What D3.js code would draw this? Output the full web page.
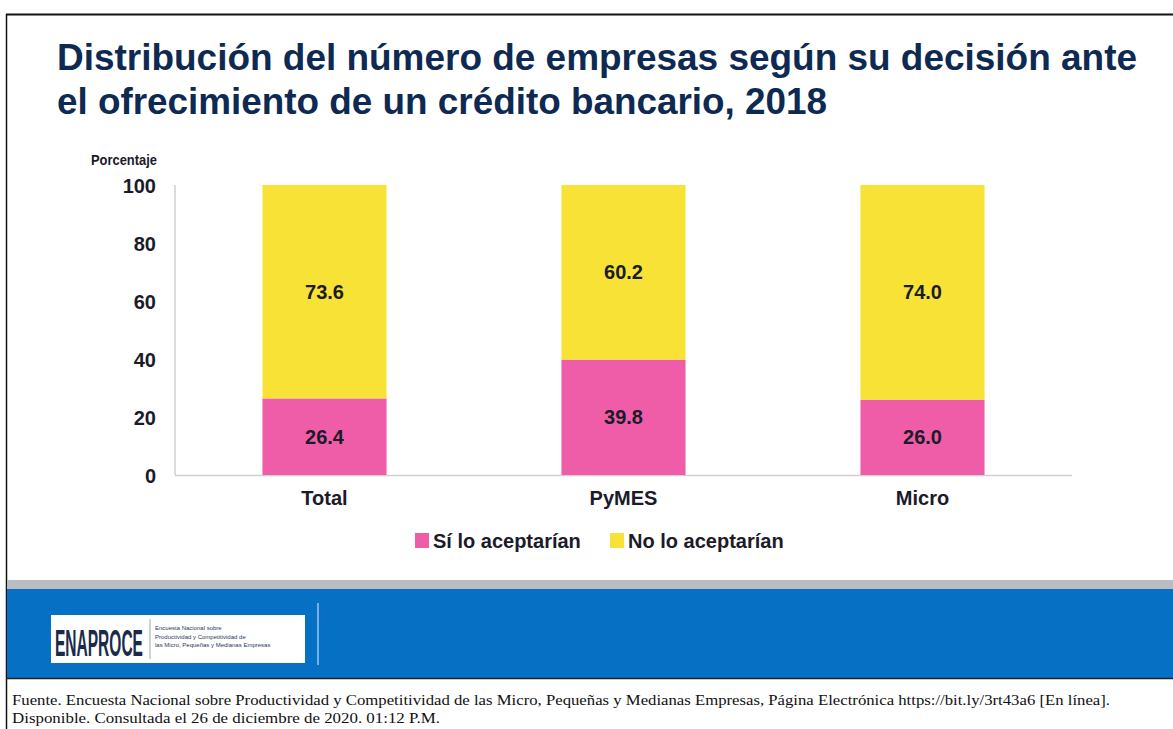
<!DOCTYPE html>
<html><head><meta charset="utf-8">
<script src="https://cdn.jsdelivr.net/npm/d3@7"></script>
<style>body{margin:0;background:#fff}svg{display:block}</style>
</head><body>
<svg id="c" width="1173" height="729"></svg>
<script>
const categories = ["Total", "PyMES", "Micro"];
const seriesNames = ["Sí lo aceptarían", "No lo aceptarían"];
const siValues = [26.4, 39.8, 26.0];
const noValues = [73.6, 60.2, 74.0];
const yTicks = [0, 20, 40, 60, 80, 100];
const colors = ["#ef5da8", "#f8e236"];

const svg = d3.select("#c");
const F = "Liberation Sans, Arial, sans-serif";

// frame
svg.append("line").attr("x1",6).attr("x2",1173).attr("y1",14.5).attr("y2",14.5).attr("stroke","#111").attr("stroke-width",2);
svg.append("line").attr("x1",6.5).attr("x2",6.5).attr("y1",14).attr("y2",729).attr("stroke","#111").attr("stroke-width",1.5);

// title
const title = ["Distribución del número de empresas según su decisión ante","el ofrecimiento de un crédito bancario, 2018"];
const tl = [1080, 770];
title.forEach((t,i)=>{
  svg.append("text").attr("x",57).attr("y",70+i*44).attr("font-family",F).attr("font-weight","bold")
    .attr("font-size",37).attr("fill","#0e2a52").attr("textLength",tl[i]).attr("lengthAdjust","spacingAndGlyphs").text(t);
});

// scales
const x = d3.scaleBand().domain(categories).range([175,1072]).paddingInner(0.585).paddingOuter(0.2925);
const y = d3.scaleLinear().domain([0,100]).range([475,185]);

const data = categories.map((c,i)=>({cat:c, si:siValues[i], no:noValues[i]}));
const stack = d3.stack().keys(["si","no"])(data);

// axis lines
svg.append("line").attr("x1",175).attr("x2",175).attr("y1",y(100)).attr("y2",y(0)).attr("stroke","#d0d0d0").attr("stroke-width",1.5);
svg.append("line").attr("x1",175).attr("x2",1072).attr("y1",y(0)+0.5).attr("y2",y(0)+0.5).attr("stroke","#d0d0d0").attr("stroke-width",1.5);

// y ticks
const ya = svg.append("g").attr("transform","translate(156,0)").call(d3.axisLeft(y).tickValues(yTicks).tickSize(0).tickPadding(0));
ya.select(".domain").remove();
ya.selectAll("text").attr("font-family",F).attr("font-weight","bold").attr("font-size",20).attr("fill","#1b1b2a").attr("dy","0.35em");

svg.append("text").attr("x",91).attr("y",165).attr("font-family",F).attr("font-weight","bold").attr("font-size",15)
  .attr("textLength",66).attr("lengthAdjust","spacingAndGlyphs").attr("fill","#1b1b2a").text("Porcentaje");

// bars
stack.forEach((s,si)=>{
  const g = svg.append("g").attr("fill",colors[si]);
  g.selectAll("rect").data(s).join("rect")
    .attr("x",d=>x(d.data.cat)).attr("width",x.bandwidth())
    .attr("y",d=>y(d[1])).attr("height",d=>y(d[0])-y(d[1]));
  svg.append("g").selectAll("text").data(s).join("text")
    .attr("x",d=>x(d.data.cat)+x.bandwidth()/2)
    .attr("y",d=>(y(d[0])+y(d[1]))/2).attr("dy","0.35em")
    .attr("text-anchor","middle").attr("font-family",F).attr("font-weight","bold").attr("font-size",20).attr("fill","#1b1b2a")
    .text(d=>(d[1]-d[0]).toFixed(1));
});

// x labels
const xa = svg.append("g").attr("transform","translate(0,498)").call(d3.axisBottom(x).tickSize(0).tickPadding(0));
xa.select(".domain").remove();
xa.selectAll("text").attr("font-family",F).attr("font-weight","bold").attr("font-size",20).attr("fill","#1b1b2a").attr("dy","0.35em");

// legend
const legX = [415, 610];
seriesNames.forEach((n,i)=>{
  svg.append("rect").attr("x",legX[i]).attr("y",533).attr("width",14).attr("height",15).attr("fill",colors[i]);
  svg.append("text").attr("x",legX[i]+18).attr("y",548).attr("font-family",F).attr("font-weight","bold").attr("font-size",20).attr("fill","#1b1b2a").text(n);
});

// bottom band
svg.append("rect").attr("x",7).attr("y",580).attr("width",1166).attr("height",9).attr("fill","#b9bdc1");
svg.append("rect").attr("x",7).attr("y",589).attr("width",1166).attr("height",89).attr("fill","#0670c4");
svg.append("line").attr("x1",6).attr("x2",1173).attr("y1",678.5).attr("y2",678.5).attr("stroke","#222").attr("stroke-width",1.5);

// logo
svg.append("rect").attr("x",51).attr("y",615).attr("width",254).attr("height",48).attr("fill","#fff");
const logo = svg.append("text").attr("font-family",F).attr("font-weight","bold").attr("font-size",20).attr("fill","#1a2a4a").text("ENAPROCE");
const lw = logo.node().getComputedTextLength();
logo.attr("transform",`translate(55,656) scale(${88/lw},1.85)`);
svg.append("line").attr("x1",150).attr("x2",150).attr("y1",619).attr("y2",659).attr("stroke","#9aa").attr("stroke-width",1);
["Encuesta Nacional sobre","Productividad y Competitividad de","las Micro, Pequeñas y Medianas Empresas"].forEach((t,i)=>{
  svg.append("text").attr("x",155).attr("y",630+i*8.5).attr("font-family",F).attr("font-size",6).attr("fill","#2a3a5a").text(t);
});
svg.append("line").attr("x1",318).attr("x2",318).attr("y1",603).attr("y2",665).attr("stroke","#9cc4ea").attr("stroke-width",1.5);

// footer
const SF = "Liberation Serif, Times New Roman, serif";
svg.append("text").attr("x",12).attr("y",705).attr("font-family",SF).attr("font-size",15).attr("fill","#111")
  .attr("textLength",1098).attr("lengthAdjust","spacingAndGlyphs")
  .text("Fuente. Encuesta Nacional sobre Productividad y Competitividad  de las Micro, Pequeñas y Medianas Empresas, Página Electrónica https://bit.ly/3rt43a6  [En línea].");
svg.append("text").attr("x",12).attr("y",723).attr("font-family",SF).attr("font-size",15).attr("fill","#111")
  .attr("textLength",428).attr("lengthAdjust","spacingAndGlyphs")
  .text("Disponible. Consultada el 26 de diciembre de 2020. 01:12 P.M.");
</script>
</body></html>
